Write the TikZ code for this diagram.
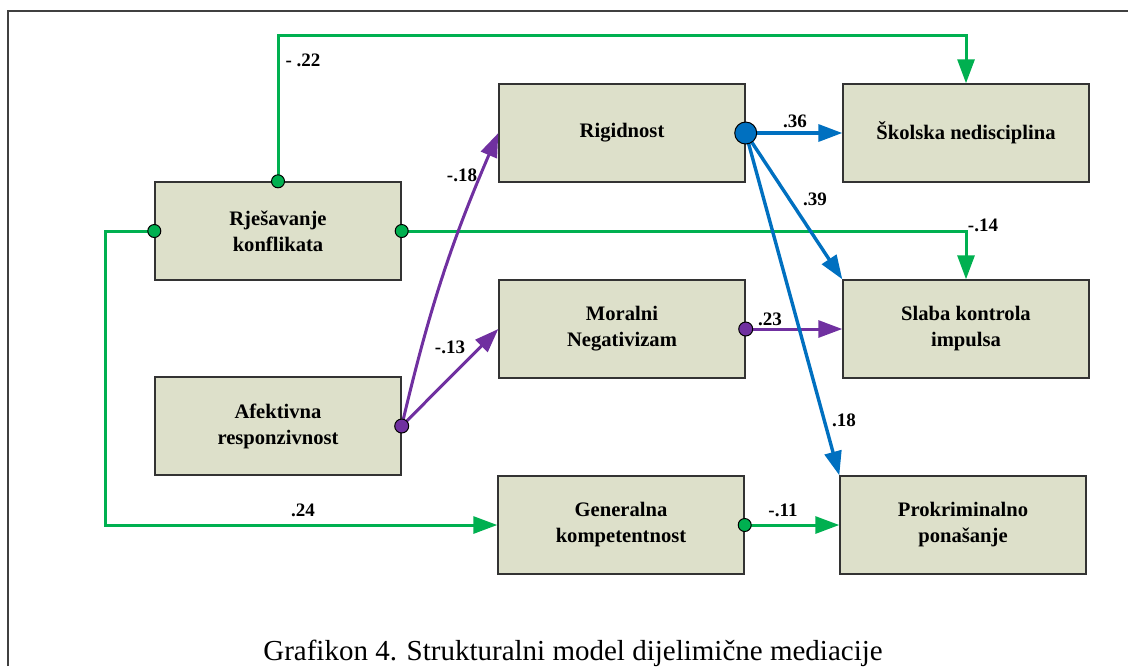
\documentclass[tikz,border=0pt]{standalone}
\usepackage{amsmath}
\usepackage{fontspec}
\setmainfont{Liberation Serif}
\usetikzlibrary{arrows.meta}
\definecolor{boxfill}{HTML}{DDE0CA}
\definecolor{pgreen}{HTML}{00B050}
\definecolor{pblue}{HTML}{0070C0}
\definecolor{ppurple}{HTML}{7030A0}
\tikzset{
  var/.style={draw=black!80, fill=boxfill, line width=0.7pt, minimum width=123pt,
    minimum height=49pt, align=center, inner sep=2pt,
    font=\bfseries\fontsize{10.3}{13}\selectfont},
  coef/.style={inner sep=1pt, font=\bfseries\fontsize{9.5}{11}\selectfont},
  tip/.style={-{Triangle[length=12pt,width=8.5pt]}},
  glink/.style={tip, draw=pgreen, line width=1.5pt},
  blink/.style={tip, draw=pblue, line width=1.7pt},
  plink/.style={tip, draw=ppurple, line width=1.5pt},
  gdot/.style={circle, draw=black, line width=0.5pt, fill=pgreen, inner sep=0pt, minimum size=6.5pt},
  pdot/.style={gdot, fill=ppurple, minimum size=7pt},
  bdot/.style={gdot, fill=pblue, minimum size=11pt}
}

\begin{document}
\begin{tikzpicture}[x=0.5pt,y=-0.5pt]
\useasboundingbox (0,0) rectangle (1128,666);
\draw[black!75, line width=0.6pt] (8,666) -- (8,11) -- (1128,11);

\node[var] (rjes) at (278,231) {Rješavanje\\konflikata};
\node[var] (afek) at (278,426) {Afektivna\\responzivnost};
\node[var] (rig)  at (622,133) {Rigidnost};
\node[var] (mor)  at (622,329) {Moralni\\Negativizam};
\node[var] (gen)  at (621,525) {Generalna\\kompetentnost};
\node[var] (skol) at (966,133) {Školska nedisciplina};
\node[var] (slab) at (966,329) {Slaba kontrola\\impulsa};
\node[var] (prok) at (963,525) {Prokriminalno\\ponašanje};

\coordinate (k1) at (278,35);
\draw[glink] (rjes.north) -- (k1) -| (skol.north);
\draw[glink] (rjes.east) -| (slab.north);
\draw[glink] (rjes.west) -- ++(-49,0) |- (gen.west);
\draw[glink] (gen.east) -- (prok.west);

\draw[plink] (afek.east) to[bend left=5] (rig.west);
\draw[plink] (afek.east) -- (mor.west);
\draw[plink] (mor.east) -- (slab.west);

\draw[blink] (rig.east) -- (skol.west);
\draw[blink] (rig.east) -- (slab.north west);
\draw[blink] (rig.east) -- (prok.north west);

\node[gdot] (d1) at (rjes.north) {};
\node[gdot] (d2) at (rjes.east) {};
\node[gdot] (d3) at (rjes.west) {};
\node[gdot] (d4) at (gen.east) {};
\node[pdot] (d5) at (afek.east) {};
\node[pdot] (d6) at (mor.east) {};
\node[bdot] (d7) at (rig.east) {};

\node[coef] (c1)  at (303,60)  {- .22};
\node[coef] (c2)  at (795,121) {.36};
\node[coef] (c3)  at (815,199) {.39};
\node[coef] (c4)  at (983,225) {-.14};
\node[coef] (c5)  at (462,175) {-.18};
\node[coef] (c6)  at (450,347) {-.13};
\node[coef] (c7)  at (770,319) {.23};
\node[coef] (c8)  at (844,420) {.18};
\node[coef] (c9)  at (303,510) {.24};
\node[coef] (c10) at (783,510) {-.11};

\node[font=\fontsize{14.5}{16}\selectfont, anchor=base] (cap) at (573,660)
  {Grafikon 4. Strukturalni model dijelimične mediacije};
\end{tikzpicture}
\end{document}
